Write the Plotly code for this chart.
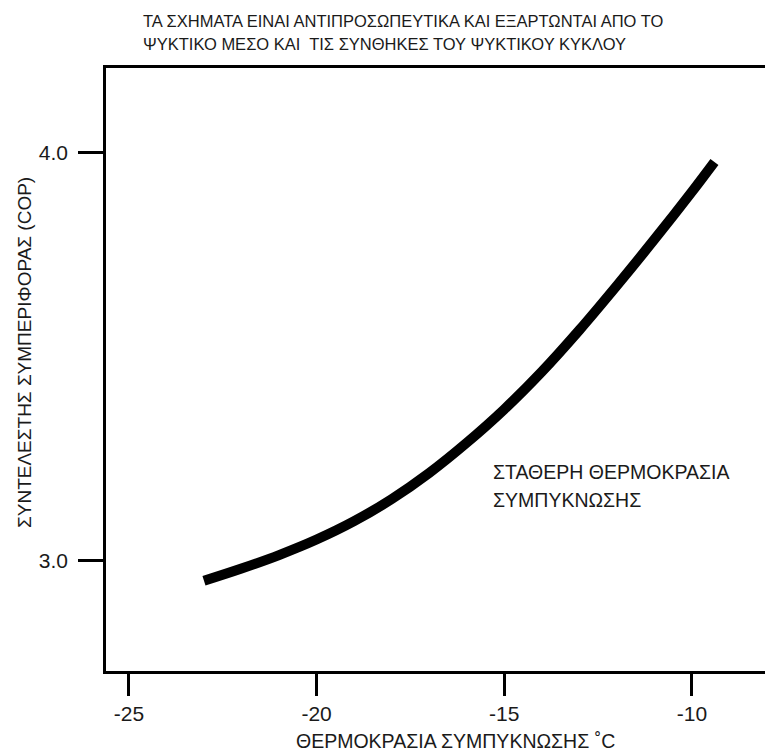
import plotly.graph_objects as go

# Data
temp_c = [-23.0, -22.0, -21.0, -20.0, -19.0, -18.0, -17.0, -16.0, -15.0, -14.0, -13.0, -12.0, -11.0, -10.0, -9.4]
cop = [2.951, 2.981, 3.014, 3.052, 3.097, 3.151, 3.215, 3.289, 3.371, 3.463, 3.565, 3.674, 3.787, 3.904, 3.977]

x_ticks = [-25, -20, -15, -10]
x_tick_labels = ["-25", "-20", "-15", "-10"]
y_ticks = [3.0, 4.0]
y_tick_labels = ["3.0", "4.0"]

title_lines = ["ΤΑ ΣΧΗΜΑΤΑ ΕΙΝΑΙ ΑΝΤΙΠΡΟΣΩΠΕΥΤΙΚΑ ΚΑΙ ΕΞΑΡΤΩΝΤΑΙ ΑΠΟ ΤΟ",
               "ΨΥΚΤΙΚΟ ΜΕΣΟ ΚΑΙ  ΤΙΣ ΣΥΝΘΗΚΕΣ ΤΟΥ ΨΥΚΤΙΚΟΥ ΚΥΚΛΟΥ"]
note_lines = ["ΣΤΑΘΕΡΗ ΘΕΡΜΟΚΡΑΣΙΑ", "ΣΥΜΠΥΚΝΩΣΗΣ"]
x_title = "ΘΕΡΜΟΚΡΑΣΙΑ ΣΥΜΠΥΚΝΩΣΗΣ ˚C"
y_title = "ΣΥΝΤΕΛΕΣΤΗΣ ΣΥΜΠΕΡΙΦΟΡΑΣ (COP)"

# The page body adds an 8px offset, so the figure is laid out 8px smaller
OFF = 8
W, H = 773 - OFF, 752 - OFF
ML, MR, MT, MB = 106 - OFF, 0, 68 - OFF, 752 - 671
PW, PH = W - ML - MR, H - MT - MB

def px(xp):
    return (xp - OFF - ML) / PW

def py(yp):
    return (H - MB - (yp - OFF)) / PH

FONT = "Liberation Sans, Arial, Helvetica, sans-serif"
TXT = "#1a1a1a"

fig = go.Figure()
fig.add_trace(go.Scatter(
    x=temp_c, y=cop, mode="lines",
    line=dict(color="black", width=10, shape="spline", smoothing=1.0),
    hoverinfo="skip", showlegend=False,
))

annotations = []
for i, t in enumerate(title_lines):
    annotations.append(dict(text=t, x=px(141), y=py(21.5 + 22 * i), xref="paper", yref="paper",
                            xanchor="left", yanchor="middle", showarrow=False,
                            font=dict(family=FONT, size=16.5, color=TXT)))
for i, t in enumerate(note_lines):
    annotations.append(dict(text=t, x=px(491), y=py(472 + 28 * i), xref="paper", yref="paper",
                            xanchor="left", yanchor="middle", showarrow=False,
                            font=dict(family=FONT, size=19.5, color=TXT)))
annotations.append(dict(text=x_title, x=px(455), y=py(741), xref="paper", yref="paper",
                        xanchor="center", yanchor="middle", showarrow=False,
                        font=dict(family=FONT, size=19.5, color=TXT)))
annotations.append(dict(text=y_title, x=px(24), y=py(353), xref="paper", yref="paper",
                        xanchor="center", yanchor="middle", showarrow=False, textangle=-90,
                        font=dict(family=FONT, size=19, color=TXT)))

fig.update_layout(
    width=W, height=H,
    margin=dict(l=ML, r=MR, t=MT, b=MB, pad=0),
    paper_bgcolor="white", plot_bgcolor="white",
    showlegend=False,
    annotations=annotations,
    xaxis=dict(range=[-25.61, -7.84], tickvals=x_ticks, ticktext=x_tick_labels,
               showgrid=False, zeroline=False, showline=True, mirror=True,
               linecolor="black", linewidth=2.5,
               ticks="outside", ticklen=22, tickwidth=3, tickcolor="black",
               tickfont=dict(family=FONT, size=21, color=TXT), fixedrange=True),
    yaxis=dict(range=[2.730, 4.207], tickvals=y_ticks, ticktext=y_tick_labels,
               showgrid=False, zeroline=False, showline=True, mirror=False,
               linecolor="black", linewidth=2.5,
               ticks="outside", ticklen=25, tickwidth=3, tickcolor="black",
               ticklabelstandoff=6,
               tickfont=dict(family=FONT, size=21, color=TXT), fixedrange=True),
)

fig.write_html("out.html", config={"displayModeBar": False})
